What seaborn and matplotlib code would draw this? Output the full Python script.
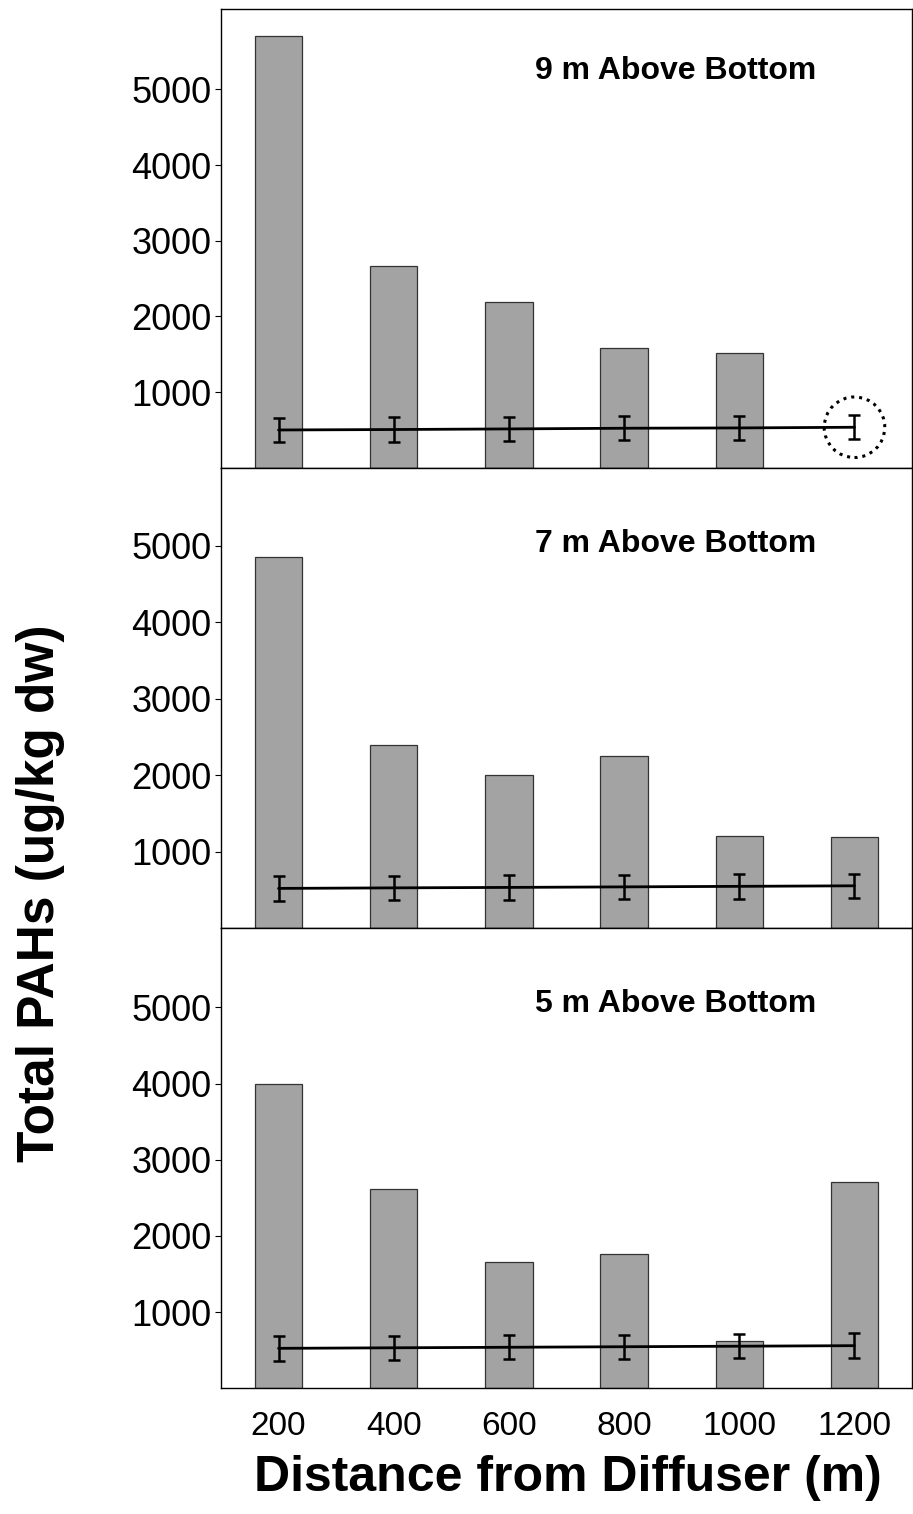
import numpy as np
import pandas as pd
import matplotlib
matplotlib.use("Agg")
import matplotlib.pyplot as plt
import seaborn as sns

# ── Data ──────────────────────────────────────────────────────────────────
distances = ["200", "400", "600", "800", "1000", "1200"]
panels = ["9 m Above Bottom", "7 m Above Bottom", "5 m Above Bottom"]

pahs_9m = [5700, 2670, 2190, 1580, 1520, np.nan]
pahs_7m = [4860, 2400, 2000, 2250, 1200, 1190]
pahs_5m = [3990, 2620, 1655, 1760, 625, 2710]

ref_9m = [500, 506, 514, 523, 527, 536]
ref_7m = [519, 526, 532, 539, 546, 553]
ref_5m = [525, 532, 539, 546, 553, 560]
ref_err = [160, 160, 160, 160, 160, 160]

yticks = [1000, 2000, 3000, 4000, 5000]

sns.set_theme(style="white")
plt.rcParams["font.family"] = ["Liberation Sans", "DejaVu Sans"]
plt.rcParams["text.color"] = "black"
plt.rcParams["xtick.color"] = "black"
plt.rcParams["ytick.color"] = "black"

fig = plt.figure(figsize=(9.13, 15.14), dpi=100)
boxes = [(0.242, 0.691, 0.757, 0.303),
         (0.242, 0.387, 0.757, 0.304),
         (0.242, 0.083, 0.757, 0.304)]
title_y = [0.865, 0.835, 0.835]
ylims = [6060, 6020, 6040]

for i, (vals, ref) in enumerate(zip([pahs_9m, pahs_7m, pahs_5m],
                                     [ref_9m, ref_7m, ref_5m])):
    ax = fig.add_axes(boxes[i])
    df = pd.DataFrame({"distance": distances, "pahs": vals})
    sns.barplot(data=df, x="distance", y="pahs", order=distances, ax=ax,
                color="#a3a3a3", saturation=1, width=0.41,
                edgecolor="#333333", linewidth=0.9, errorbar=None)
    ax.errorbar(np.arange(len(distances)), ref, yerr=ref_err,
                color="black", linewidth=2, elinewidth=1.8,
                capsize=4, capthick=1.8, zorder=5)
    if i == 0:
        # dotted circle round the last reference point
        ax.scatter([5], [ref[5]], s=1900, facecolors="none",
                   edgecolors="black", linestyle=(0, (1, 1.6)),
                   linewidths=2.2, zorder=6)
    ax.set_xlim(-0.5, 5.5)
    ax.set_ylim(0, ylims[i])
    ax.set_yticks(yticks)
    ax.set_yticklabels([str(t) for t in yticks], fontsize=26)
    ax.tick_params(axis="y", left=True, length=4, width=0.8, pad=3)
    ax.set_xlabel("")
    ax.set_ylabel("")
    if i < 2:
        ax.set_xticklabels([])
        ax.tick_params(axis="x", bottom=False)
    else:
        ax.set_xticklabels(distances, fontsize=24)
        ax.tick_params(axis="x", bottom=False, pad=10)
    for sp in ax.spines.values():
        sp.set_color("black")
        sp.set_linewidth(1.0)
    ax.text(0.658, title_y[i], panels[i], transform=ax.transAxes,
            ha="center", va="center", fontsize=23, fontweight="bold")

fig.text(0.044, 0.41, "Total PAHs (ug/kg dw)", rotation=90,
         ha="center", va="center", fontsize=37, fontweight="bold")
fig.text(0.622, 0.024, "Distance from Diffuser (m)",
         ha="center", va="center", fontsize=36, fontweight="bold")

fig.savefig("out.png", dpi=100)
